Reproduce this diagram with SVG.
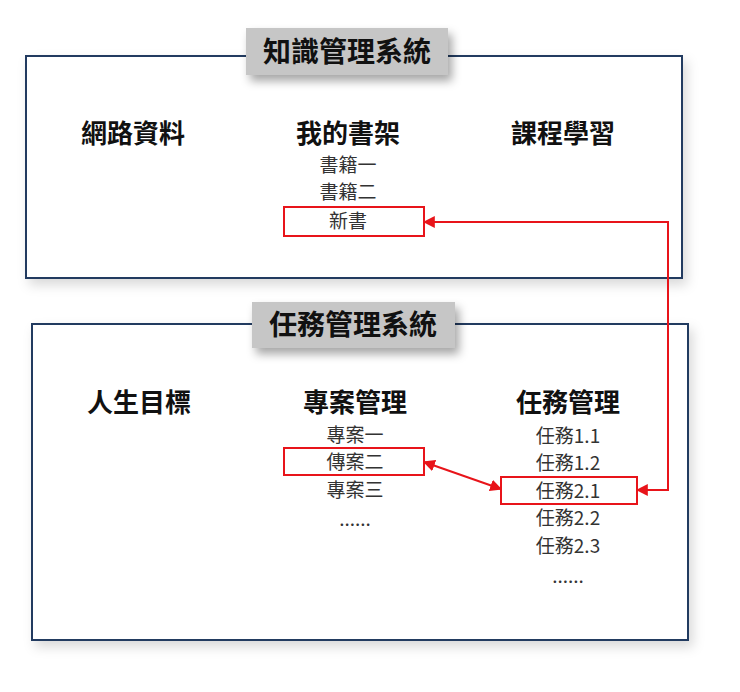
<svg xmlns="http://www.w3.org/2000/svg" width="740" height="692" viewBox="0 0 740 692">
<style>
text{font-family:"Noto Sans CJK TC","Noto Sans CJK SC",sans-serif;text-anchor:middle;fill:#111}
.t{font-size:28px;font-weight:bold}
.h{font-size:26px;font-weight:bold}
.i{font-size:19px;fill:#333}
.frame{fill:#fff;stroke:#233a60;stroke-width:2}
.tb{fill:#c6c6c6}
.hl{fill:none;stroke:#e8141a;stroke-width:2}
.c{fill:none;stroke:#e8141a;stroke-width:2}
</style>
<defs>
<filter id="sh" x="-20%" y="-20%" width="150%" height="160%"><feDropShadow dx="4" dy="6" stdDeviation="5" flood-color="#000" flood-opacity="0.35"/></filter>
<filter id="bs" x="-10%" y="-10%" width="120%" height="130%"><feDropShadow dx="4" dy="6" stdDeviation="6" flood-color="#000" flood-opacity="0.15"/></filter>
<marker id="a" viewBox="0 0 10 10" refX="9" refY="5" markerWidth="6" markerHeight="6" orient="auto-start-reverse"><path d="M0,0L10,5L0,10z" fill="#e8141a"/></marker>
</defs>
<rect width="740" height="692" fill="#fff"/>
<g id="km">
<rect class="frame" x="26" y="56" width="656" height="222" filter="url(#bs)"/>
<rect class="tb" x="246" y="28" width="202" height="47" filter="url(#sh)"/>
<text class="t" x="347" y="62">知識管理系統</text>
</g>
<g id="web"><text class="h" x="133" y="143">網路資料</text></g>
<g id="shelf"><text class="h" x="348" y="143">我的書架</text>
<text class="i" x="348" y="172">書籍一</text><text class="i" x="348" y="199">書籍二</text></g>
<g id="newbook"><rect class="hl" x="284" y="207" width="140" height="29"/><text class="i" x="348" y="228">新書</text></g>
<g id="course"><text class="h" x="563" y="143">課程學習</text></g>
<g id="tm">
<rect class="frame" x="32" y="324" width="656" height="316" filter="url(#bs)"/>
<rect class="tb" x="252" y="302" width="203" height="46" filter="url(#sh)"/>
<text class="t" x="353" y="335">任務管理系統</text>
</g>
<g id="life"><text class="h" x="139" y="412">人生目標</text></g>
<g id="proj"><text class="h" x="355" y="412">專案管理</text>
<text class="i" x="355" y="442">專案一</text><text class="i" x="355" y="497">專案三</text><text class="i" x="355" y="526">......</text></g>
<g id="proj2"><rect class="hl" x="284" y="448" width="140" height="27"/><text class="i" x="355" y="469">傳案二</text></g>
<g id="tasks"><text class="h" x="568" y="412">任務管理</text>
<text class="i" x="568" y="443">任務1.1</text><text class="i" x="568" y="470">任務1.2</text>
<text class="i" x="568" y="525">任務2.2</text><text class="i" x="568" y="553">任務2.3</text><text class="i" x="568" y="583">......</text></g>
<g id="task21"><rect class="hl" x="501" y="477" width="136" height="27"/><text class="i" x="568" y="498">任務2.1</text></g>
<g id="connectors">
<polyline class="c" points="637,490 668,490 668,222 424,222" marker-start="url(#a)" marker-end="url(#a)"/>
<line class="c" x1="424" y1="462" x2="501" y2="489" marker-start="url(#a)" marker-end="url(#a)"/>
</g>
</svg>
